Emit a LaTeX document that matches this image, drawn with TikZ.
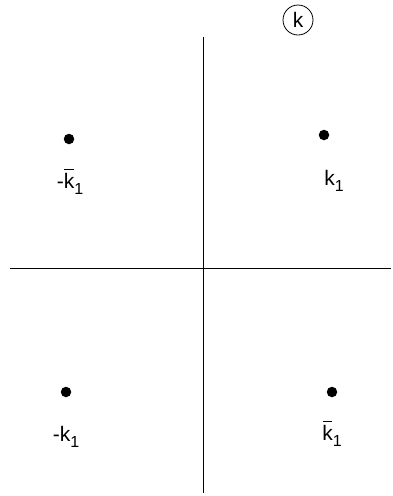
\documentclass[tikz,border=0pt]{standalone}
\usepackage{fontspec}
\setmainfont{Liberation Sans}
\newcommand{\kbar}{\makebox[0pt][l]{\hspace{0.02em}\raisebox{0.88em}{\rule{0.46em}{1pt}}}k}
\newcommand{\sone}{\raisebox{-0.3em}{\fontsize{16}{16}\selectfont 1}}
\begin{document}
\begin{tikzpicture}[x=1pt,y=-1pt,
  axis/.style={line width=1pt},
  pt/.style={circle,fill=black,inner sep=0pt,minimum size=10.5pt},
  lbl/.style={font=\fontsize{21}{24}\selectfont,inner sep=0pt}]
\useasboundingbox (0,0) rectangle (393,496);
\coordinate (vt) at (203,37);
\coordinate (vb) at (203,493);
\coordinate (hl) at (10,268);
\coordinate (hr) at (391,268);
\draw[axis] (vt) -- (vb);
\draw[axis] (hl) -- (hr);
\node[draw,circle,line width=0.8pt,minimum size=30pt,inner sep=0pt,lbl] (kc) at (298,20) {k};
\node[pt] (p1) at (69,139) {};
\node[pt] (p2) at (324,135) {};
\node[pt] (p3) at (66,392) {};
\node[pt] (p4) at (332,392) {};
\node[lbl] (l1) at (70,182) {-\kbar\sone};
\node[lbl] (l2) at (334,181) {k\sone};
\node[lbl] (l3) at (66,437) {-k\sone};
\node[lbl] (l4) at (332,434) {\kbar\sone};
\end{tikzpicture}
\end{document}
